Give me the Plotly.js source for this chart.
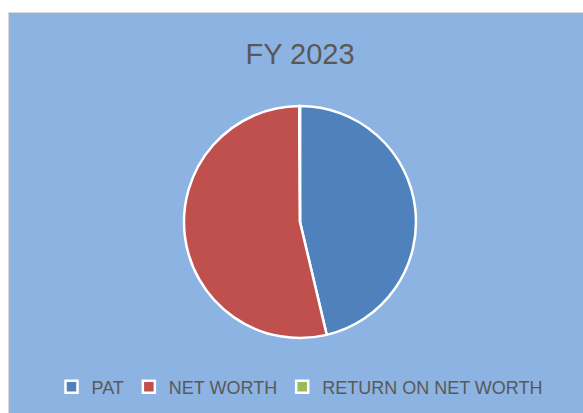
<!DOCTYPE html>
<html>
<head>
<meta charset="utf-8">
<script src="https://cdn.plot.ly/plotly-3.0.1.min.js"></script>
<style>
  html, body { margin: 0; padding: 0; background: #ffffff; overflow: hidden; }
  #chartBox {
    position: absolute;
    left: 8px;
    top: 12px;
    width: 582px;
    height: 400px;
    border: 1px solid #d9d9d9;
  }
</style>
</head>
<body>
<div id="chartBox"></div>
<script>
// Shares (percent of the whole)
const labels = ['PAT', 'NET WORTH', 'RETURN ON NET WORTH'];
const values = [46.3, 53.6, 0.1];
const sliceColors = ['#4f81bd', '#c0504d', '#9bbb59'];

const getData = () => {
    return [{
        type: 'pie',
        labels: labels,
        values: values,
        sort: false,
        direction: 'clockwise',
        rotation: 0,
        textinfo: 'none',
        hoverinfo: 'none',
        domain: { x: [175 / 582, 407 / 582], y: [0, 1] },
        marker: {
            colors: sliceColors,
            line: { color: '#ffffff', width: 2.5 }
        }
    }];
}

const getLayout = () => {
    return {
        width: 582,
        height: 400,
        paper_bgcolor: '#8db3e2',
        plot_bgcolor: '#8db3e2',
        margin: { l: 0, r: 0, t: 93, b: 75, autoexpand: false },
        font: { family: 'Liberation Sans, Arial, sans-serif', color: '#595959' },
        title: {
            text: 'FY 2023',
            font: { size: 29, color: '#595959' },
            x: 0.5,
            xanchor: 'center',
            yref: 'container',
            y: 0.899,
            yanchor: 'middle'
        },
        showlegend: true,
        legend: {
            orientation: 'h',
            xref: 'container',
            yref: 'container',
            x: 0.5,
            xanchor: 'center',
            y: 0.065,
            yanchor: 'middle',
            font: { size: 18, color: '#595959' },
            bgcolor: 'rgba(0,0,0,0)'
        }
    };
}

Plotly.newPlot('chartBox', getData(), getLayout(), { displayModeBar: false, staticPlot: true });
</script>
</body>
</html>
